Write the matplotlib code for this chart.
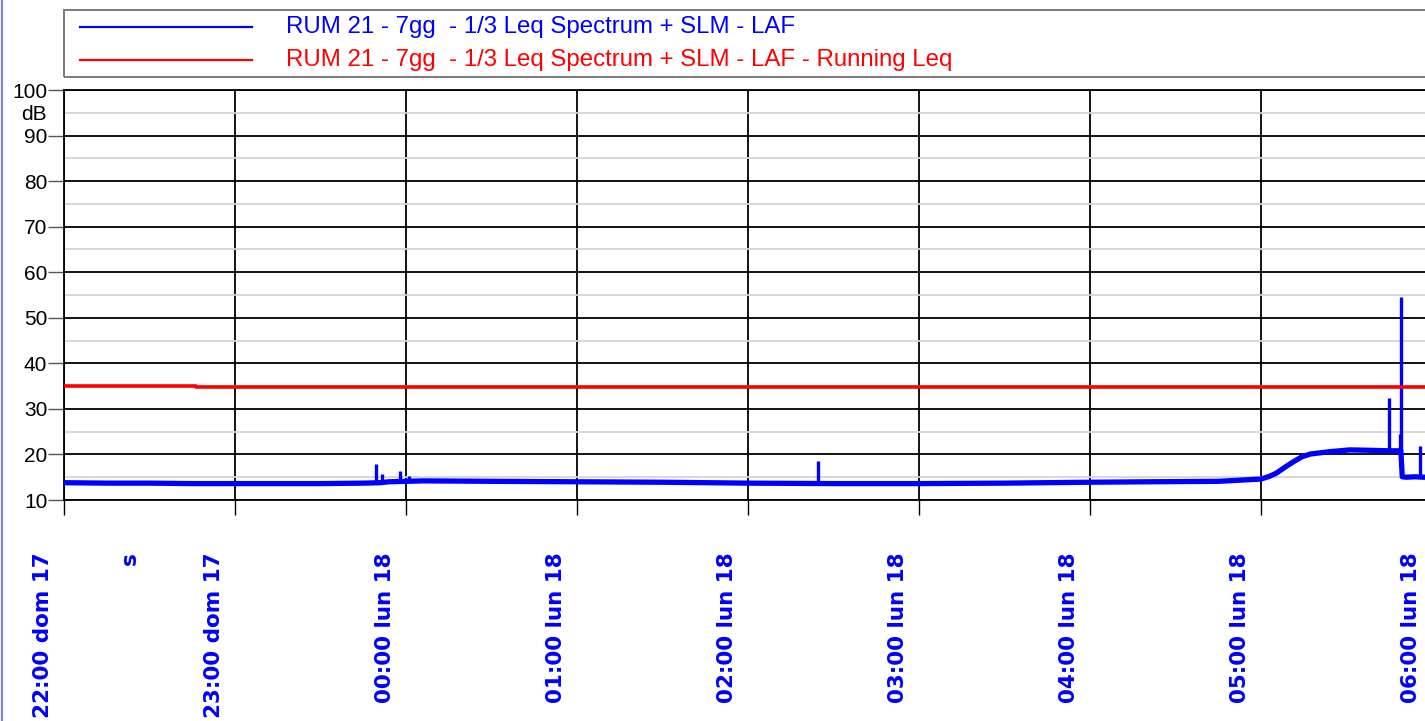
import matplotlib
matplotlib.use("Agg")
import matplotlib.pyplot as plt
from matplotlib.lines import Line2D
from matplotlib.patches import Rectangle
from matplotlib.ticker import MultipleLocator

W, H = 1425, 721

series_names = [
    "RUM 21 - 7gg  - 1/3 Leq Spectrum + SLM - LAF",
    "RUM 21 - 7gg  - 1/3 Leq Spectrum + SLM - LAF - Running Leq",
]
tick_hours = [0, 1, 2, 3, 4, 5, 6, 7, 8]
tick_labels = ["22:00 dom 17", "23:00 dom 17", "00:00 lun 18", "01:00 lun 18",
               "02:00 lun 18", "03:00 lun 18", "04:00 lun 18", "05:00 lun 18",
               "06:00 lun 18"]
unit_label = "s"

# LAF level, hours after 22:00
laf_hours = [0.0, 0.25, 0.5, 0.75, 1.0, 1.25, 1.5, 1.75, 1.85, 1.9, 2.0, 2.1,
             2.5, 3.0, 3.5, 4.0, 4.5, 5.0, 5.5, 6.0, 6.35, 6.75, 7.0, 7.05,
             7.09, 7.14, 7.19, 7.24, 7.29, 7.4, 7.52, 7.65, 7.75, 7.818,
             7.826, 7.85, 7.9, 7.95, 8.0]
laf_db = [13.8, 13.7, 13.7, 13.6, 13.6, 13.6, 13.6, 13.7, 13.8, 14.0, 14.1, 14.2,
          14.1, 14.0, 13.9, 13.7, 13.6, 13.6, 13.7, 13.9, 14.0, 14.1, 14.6, 15.2,
          15.9, 17.2, 18.4, 19.5, 20.1, 20.6, 21.0, 20.9, 20.8, 20.8,
          15.1, 15.0, 15.1, 15.0, 15.0]

# short events on top of the LAF trace
spike_hours = [1.823, 1.858, 1.967, 2.018, 4.409, 7.750, 7.813, 7.820, 7.932]
spike_base = [13.7, 13.8, 14.0, 14.1, 13.7, 20.8, 20.8, 20.8, 15.0]
spike_peak = [17.9, 15.6, 16.4, 15.3, 18.6, 32.5, 24.5, 54.5, 21.9]

# running Leq
leq_hours = [0.0, 0.77, 2.64, 6.48, 8.0]
leq_db = [35.0, 34.9, 34.8, 34.7, 34.7]

BLUE = "#0000ff"
RED = "#ff0000"


def fx(px):
    return px / W


def fy(py):
    return 1 - py / H


fig = plt.figure(figsize=(W / 100, H / 100), dpi=100)
ax = fig.add_axes([fx(64), fy(500), 8 * 171 / W, 410 / H])

ax.plot(laf_hours, laf_db, color=BLUE, lw=3.8, solid_joinstyle="round", zorder=3)
ax.vlines(spike_hours, spike_base, spike_peak, color=BLUE, lw=2.4, zorder=3)
ax.plot(leq_hours, leq_db, color=RED, lw=2.6, drawstyle="steps-post", zorder=4)

ax.set_xlim(0, 8)
ax.set_ylim(10, 100)
ax.set_xticks(tick_hours)
ax.set_xticklabels([])
ax.yaxis.set_major_locator(MultipleLocator(10))
ax.yaxis.set_minor_locator(MultipleLocator(5))
ax.set_axisbelow(True)
ax.grid(which="major", axis="both", color="black", lw=1.3)
ax.grid(which="minor", axis="y", color="#d4d4d4", lw=1.3)
ax.tick_params(axis="x", which="major", direction="out", length=11, width=1.0,
               color="black")
ax.tick_params(axis="y", which="major", direction="out", length=11.5, width=1.0,
               color="#555555", pad=0.5, labelsize=15)
ax.tick_params(axis="y", which="minor", length=0)
for lab in ax.get_yticklabels():
    lab.set_family("Liberation Sans")
for s in ax.spines.values():
    s.set_color("black")
    s.set_linewidth(1.3)

ax.annotate("dB", xy=(0, 94.6), xycoords=ax.get_yaxis_transform(),
            xytext=(-17, 0), textcoords="offset pixels", ha="right", va="center",
            fontsize=15, family="Liberation Sans")

# rotated time labels under each hour line
for h, lab in zip(tick_hours, tick_labels):
    ax.annotate(lab, xy=(h, 0), xycoords=ax.get_xaxis_transform(),
                xytext=(-21, -52), textcoords="offset pixels", rotation=90,
                ha="center", va="top", fontsize=15.5, fontweight="bold",
                color=BLUE, annotation_clip=False)
ax.annotate(unit_label, xy=(0, 0), xycoords=ax.get_xaxis_transform(),
            xytext=(66, -52), textcoords="offset pixels", rotation=90,
            ha="center", va="top", fontsize=15.5, fontweight="bold",
            color=BLUE, annotation_clip=False)

# legend box across the top
fig.add_artist(Rectangle((fx(64), fy(77)), 1.0, 67 / H, fill=False,
                         ec="#7a7a7a", lw=1.4, transform=fig.transFigure))
for i, (name, col) in enumerate(zip(series_names, [BLUE, RED])):
    yy = 27 + 33 * i
    fig.add_artist(Line2D([fx(80), fx(252)], [fy(yy), fy(yy)],
                          color=col, lw=1.6, transform=fig.transFigure))
    fig.text(fx(286), fy(yy), name, color=col, fontsize=17.3,
             family="Liberation Sans", ha="left", va="center")

# thin frame line on the left edge
fig.add_artist(Line2D([fx(2), fx(2)], [0, 1], color="#8080ff", lw=1.5,
                      transform=fig.transFigure))

fig.savefig("out.png", dpi=100)
